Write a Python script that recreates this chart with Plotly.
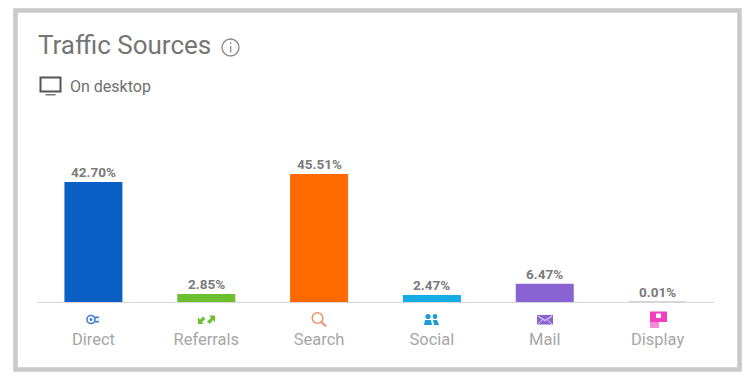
import plotly.graph_objects as go

categories = ["Direct", "Referrals", "Search", "Social", "Mail", "Display"]
values = [42.70, 2.85, 45.51, 2.47, 6.47, 0.01]
labels = ["42.70%", "2.85%", "45.51%", "2.47%", "6.47%", "0.01%"]
colors = ["#0a5fc4", "#6cc02f", "#ff6a00", "#14ace2", "#8a63d2", "#d6d6d6"]

W, H = 750, 382
L, R, T, B = 37, 36, 120, 80


def X(px):
    return (px - L) / (W - L - R)


def Y(py):
    return 1 - (py - T) / (H - T - B)


def rect(x0, y0, x1, y1, **kw):
    return dict(type="rect", xref="paper", yref="paper", x0=X(x0), x1=X(x1), y0=Y(y0), y1=Y(y1), **kw)


def circle(cx, cy, r, **kw):
    return dict(type="circle", xref="paper", yref="paper", x0=X(cx - r), x1=X(cx + r), y0=Y(cy - r), y1=Y(cy + r), **kw)


def path(points, close=True, **kw):
    d = "M" + " L".join(f"{X(a):.5f},{Y(b):.5f}" for a, b in points) + (" Z" if close else "")
    return dict(type="path", xref="paper", yref="paper", path=d, **kw)


NL = dict(width=0)
shapes = [
    rect(15.5, 10.5, 739.5, 369.5, line=dict(color="#c9c9c9", width=4.5), fillcolor="rgba(0,0,0,0)", layer="below"),
    # info icon
    circle(230.5, 47.5, 8.5, line=dict(color="#8a8a8a", width=1.4)),
    rect(230, 46, 231.3, 52.5, fillcolor="#8a8a8a", line=NL),
    rect(230, 42.6, 231.3, 44.2, fillcolor="#8a8a8a", line=NL),
    # monitor icon
    rect(40.5, 77.5, 60.5, 91.5, line=dict(color="#555555", width=2), fillcolor="white"),
    rect(45.5, 94, 55.5, 95.5, fillcolor="#777777", line=NL),
    # direct
    circle(91, 319.5, 4, line=dict(color="#3f7fd0", width=1.6), fillcolor="white"),
    circle(91, 319.5, 1.5, fillcolor="#3f7fd0", line=NL),
    rect(95, 316.5, 99, 318.2, fillcolor="#3f7fd0", line=NL),
    rect(95, 320.8, 99, 322.5, fillcolor="#3f7fd0", line=NL),
    # referrals
    path([(198, 324), (198, 317.5), (200, 319.5), (203, 316.5), (205.5, 319), (202, 322), (203.5, 324)], fillcolor="#6cc02f", line=NL),
    path([(215, 315.5), (215, 322), (213, 320), (210, 324), (207, 321.5), (211, 318), (209.5, 315.5)], fillcolor="#6cc02f", line=NL),
    # search
    circle(317.5, 318, 5.3, line=dict(color="#f0906a", width=1.5)),
    path([(321.5, 322), (326, 326.5)], close=False, line=dict(color="#f0906a", width=1.8)),
    # social
    circle(428, 316.5, 2.6, fillcolor="#1d9bd8", line=NL),
    circle(435, 316.5, 2.4, fillcolor="#1d9bd8", line=NL),
    path([(424, 325), (425, 320), (431, 320), (432, 325)], fillcolor="#1d9bd8", line=NL),
    path([(433, 320), (437, 320), (439, 325), (434, 325)], fillcolor="#1d9bd8", line=NL),
    # mail
    rect(537, 315, 553, 324.5, fillcolor="#8a63d2", line=NL),
    path([(538, 316), (545, 320.5), (552, 316)], close=False, line=dict(color="#d8ccf2", width=1.2)),
    path([(538, 324), (543, 319.5)], close=False, line=dict(color="#d8ccf2", width=1)),
    path([(552, 324), (547, 319.5)], close=False, line=dict(color="#d8ccf2", width=1)),
    # display
    rect(650, 311.5, 667, 322, fillcolor="#f23fc0", line=NL),
    rect(650, 322, 659, 328, fillcolor="#f58bd8", line=NL),
    rect(656, 313.5, 661, 318, fillcolor="#ffffff", line=NL),
]

fig = go.Figure(
    go.Bar(
        x=categories,
        y=values,
        marker=dict(color=colors, line=dict(width=0)),
        cliponaxis=False,
    )
)

value_labels = [
    dict(text=t, xref="x", yref="y", x=c, y=v, xanchor="center", yanchor="bottom", showarrow=False,
         font=dict(family="Roboto", size=13.5, color="#7a7a7a", weight="bold"))
    for c, v, t in zip(categories, values, labels)
]

fig.update_layout(
    width=W,
    height=H,
    margin=dict(l=L, r=R, t=T, b=B, autoexpand=False),
    paper_bgcolor="white",
    plot_bgcolor="white",
    bargap=0.486,
    showlegend=False,
    shapes=shapes,
    annotations=[
        dict(text="Traffic Sources", xref="paper", yref="paper", x=X(36), y=Y(45), xanchor="left", yanchor="middle",
             showarrow=False, font=dict(family="Roboto", size=26, color="#757575")),
        dict(text="On desktop", xref="paper", yref="paper", x=X(68), y=Y(86), xanchor="left", yanchor="middle",
             showarrow=False, font=dict(family="Roboto", size=16, color="#6e6e6e")),
    ] + value_labels,
)
fig.update_xaxes(
    type="category",
    showgrid=False,
    zeroline=False,
    showline=True,
    linecolor="#d6d6d6",
    linewidth=1,
    ticks="",
    ticklabelstandoff=22,
    tickfont=dict(family="Roboto", size=16.5, color="#a6a6a6"),
)
fig.update_yaxes(visible=False, range=[0, 182 / 2.81], showgrid=False, zeroline=False)

fig.write_html("out.html", config=dict(displayModeBar=False), post_script="document.body.style.margin='0';")
